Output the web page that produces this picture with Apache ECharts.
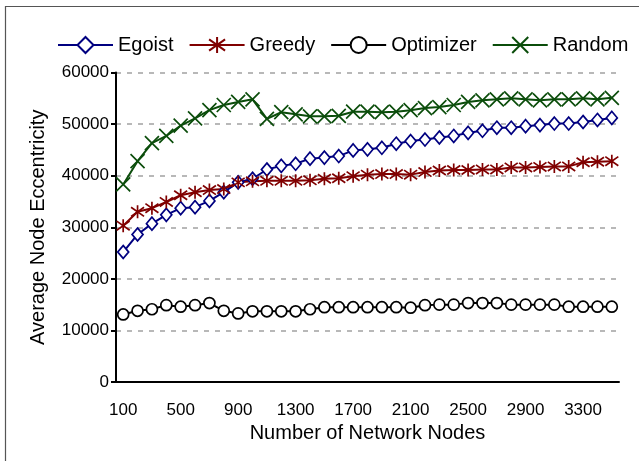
<!DOCTYPE html>
<html>
<head>
<meta charset="utf-8">
<script src="https://cdn.jsdelivr.net/npm/echarts@6/dist/echarts.min.js"></script>
<style>
html,body{margin:0;padding:0;background:#fff;}
#chart{width:639px;height:461px;}
</style>
</head>
<body>
<div id="chart"></div>
<script>
const categories = [100,200,300,400,500,600,700,800,900,1000,1100,1200,1300,1400,1500,1600,1700,1800,1900,2000,2100,2200,2300,2400,2500,2600,2700,2800,2900,3000,3100,3200,3300,3400,3500];
const egoist = [25200,28600,30700,32400,33700,33900,35100,36800,38700,39400,41200,41900,42300,43300,43500,43800,44900,45100,45400,46200,46700,47000,47400,47700,48300,48700,49300,49300,49600,49800,50100,50100,50400,50800,51200];
const greedy = [30300,33000,33700,34900,36200,36800,37200,37400,38700,38900,39000,39000,39000,39100,39400,39500,39900,40200,40300,40300,40200,40700,41000,41100,41100,41200,41200,41600,41600,41700,41800,41800,42600,42700,42800];
const optimizer = [13100,13800,14100,14900,14600,14900,15300,13800,13300,13700,13700,13700,13700,14100,14500,14500,14500,14500,14500,14500,14400,14900,15000,15000,15300,15300,15300,15000,15000,15000,15000,14600,14600,14600,14600];
const random = [38300,42800,46300,47700,49700,51100,52700,53700,54300,54800,51000,52300,51900,51500,51500,51600,52400,52400,52300,52400,52700,53100,53300,53700,54300,54600,54800,55000,54800,54600,54800,54800,55000,54800,55100];
const yTicks = [0,10000,20000,30000,40000,50000,60000];

const FONT = 'Liberation Sans, Arial, sans-serif';
const chart = echarts.init(document.getElementById('chart'), null, {renderer:'canvas'});

function mkSeries(name, data, color, symbol, size, hollow){
  return {
    name: name,
    type: 'line',
    data: data,
    symbol: symbol,
    symbolSize: size,
    showAllSymbol: true,
    lineStyle: {color: color, width: 2},
    itemStyle: {color: hollow ? '#ffffff' : color, borderColor: color, borderWidth: 1.7},
    emphasis: {disabled: true}
  };
}

chart.setOption({
  animation: false,
  backgroundColor: '#ffffff',
  textStyle: {fontFamily: FONT},
  graphic: [{
    type: 'rect',
    shape: {x: 5.5, y: 6.5, width: 720, height: 600},
    style: {fill: 'none', stroke: '#555555', lineWidth: 1.2},
    silent: true
  }],
  legend: {
    left: 52,
    top: 30,
    itemWidth: 55,
    itemHeight: 20,
    itemGap: 15,
    textStyle: {fontFamily: FONT, fontSize: 20, color: '#000'},
    data: ['Egoist','Greedy','Optimizer','Random']
  },
  grid: {left: 116, right: 20, top: 72.5, bottom: 79, containLabel: false},
  xAxis: {
    type: 'category',
    data: categories,
    boundaryGap: true,
    name: 'Number of Network Nodes',
    nameLocation: 'middle',
    nameGap: 41,
    nameTextStyle: {fontFamily: FONT, fontSize: 20, color: '#000'},
    axisLine: {lineStyle: {color: '#000', width: 2}},
    axisTick: {interval: 3, length: 5, lineStyle: {color: '#000', width: 2}},
    axisLabel: {interval: 3, margin: 20, fontFamily: FONT, fontSize: 17, color: '#000'},
    splitLine: {show: false}
  },
  yAxis: {
    type: 'value',
    min: yTicks[0],
    max: yTicks[yTicks.length-1],
    interval: 10000,
    name: 'Average Node Eccentricity',
    nameLocation: 'middle',
    nameGap: 68,
    nameTextStyle: {fontFamily: FONT, fontSize: 20, color: '#000'},
    axisLine: {show: true, lineStyle: {color: '#000', width: 2}},
    axisTick: {show: true, length: 5, lineStyle: {color: '#000', width: 2}},
    axisLabel: {margin: 7, fontFamily: FONT, fontSize: 17, color: '#000', formatter: function(v){ return String(v); }},
    splitLine: {show: true, lineStyle: {color: '#b8b8b8', width: 2, type: [5,6]}}
  },
  series: [
    mkSeries('Egoist', egoist, '#000080', 'diamond', [11,13], true),
    mkSeries('Greedy', greedy, '#800000', 'path://M5 0V10M0.7 1.5L9.3 8.5M9.3 1.5L0.7 8.5', 13, false),
    mkSeries('Optimizer', optimizer, '#000000', 'circle', 11, true),
    mkSeries('Random', random, '#0b4d0b', 'path://M0 0L10 10M10 0L0 10', 14, false)
  ]
});
</script>
</body>
</html>
